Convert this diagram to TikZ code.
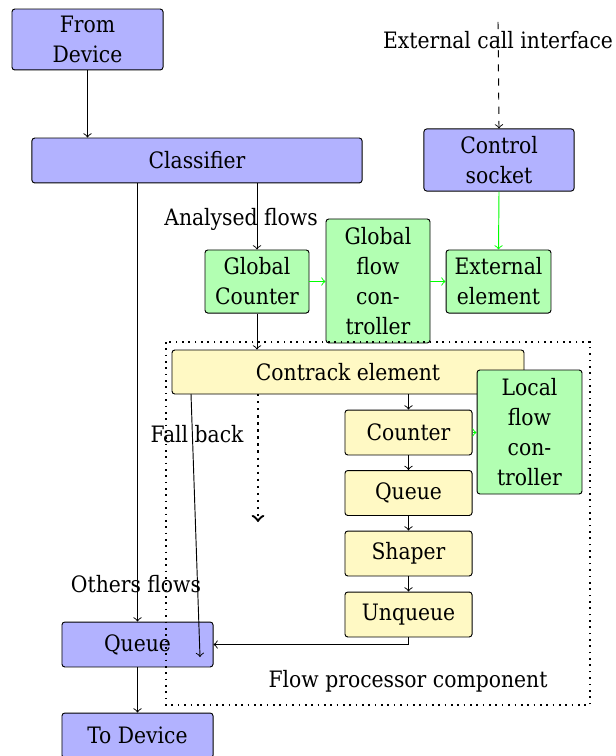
\documentclass[tikz,border=0pt]{standalone}
\usepackage{tikz}
\usepackage{fontspec}
\setmainfont{DejaVu Serif Condensed}
\definecolor{procyellow}{RGB}{255,249,196}

\begin{document}
\begin{tikzpicture}[x=0.425pt,y=-0.425pt, font=\fontsize{9.6}{12.8}\selectfont,
 blk/.style={draw, rounded corners=1.2pt, fill=blue!30, align=center, inner sep=1pt},
 grn/.style={draw, rounded corners=1.2pt, fill=green!30, align=center, inner sep=1pt},
 ylw/.style={draw, rounded corners=1.2pt, fill=procyellow, align=center, inner sep=1pt}]

 \useasboundingbox (0,0) rectangle (615,756);

 % left column
 \path (87.5,39.5) node[blk, minimum width=64.2pt, minimum height=25.9pt](fromdev){From\\Device};
 \path (197,160.5) node[blk, minimum width=140.3pt, minimum height=19.1pt](classifier){Classifier};
 \path (137.5,644.5) node[blk, minimum width=64.2pt, minimum height=19.1pt](queue){Queue};
 \path (137.5,735.5) node[blk, minimum width=64.2pt, minimum height=19.1pt](todev){To Device};

 % control side
 \path (498,40) node(extlabel){External call interface};
 \coordinate (extin) at (498,22);
 \path (499,160) node[blk, minimum width=63.8pt, minimum height=26.4pt](socket){Control\\socket};

 % global part
 \path (241,219) node(analysed){Analysed flows};
 \path (257,281.5) node[grn, minimum width=44.2pt, minimum height=26.8pt](gcounter){Global\\Counter};
 \path (378,281) node[grn, minimum width=44.2pt, minimum height=52.7pt](gflow){Global\\flow\\con-\\troller};
 \path (498.5,281.5) node[grn, minimum width=44.6pt, minimum height=26.8pt](extelem){External\\element};

 % flow processor
 \path (348,372) node[ylw, minimum width=149.6pt, minimum height=18.7pt](contrack){Contrack element};
 \path (529.5,432) node[grn, minimum width=44.6pt, minimum height=52.7pt](lflow){Local\\flow\\con-\\troller};
 \path (408.5,432.5) node[ylw, minimum width=54pt, minimum height=19.1pt](counter){Counter};
 \path (408.5,493) node[ylw, minimum width=54pt, minimum height=19.1pt](pqueue){Queue};
 \path (408.5,553.5) node[ylw, minimum width=54pt, minimum height=19.1pt](shaper){Shaper};
 \path (408.5,614.5) node[ylw, minimum width=54pt, minimum height=19.1pt](unqueue){Unqueue};

 \path (197,434) node(fallback){Fall back};
 \path (136,584) node(others){Others flows};
 \path (408,681) node(fpc){Flow processor component};

 \coordinate (fbstart) at (258,394);
 \coordinate (fbend) at (258,522);
 \coordinate (slstart) at (191,394);
 \coordinate (slend) at (200,657);

 % arrows
 \draw[->] (fromdev) -- (classifier.north -| fromdev);
 \draw[->] (queue.north |- classifier.south) -- (queue.north);
 \draw[->] (gcounter.north |- classifier.south) -- (gcounter.north);
 \draw[->] (gcounter.south) -- (contrack.north -| gcounter.south);
 \draw[->, dashed] (extin) -- (socket.north);
 \draw[->, green] (socket.south) -- (extelem.north);
 \draw[->, green] (gcounter.east) -- (gflow.west |- gcounter.east);
 \draw[->, green] (gflow.east |- extelem.west) -- (extelem.west);
 \draw[->, green] (counter.east) -- (lflow.west |- counter.east);
 \draw[->] (contrack.south -| counter.north) -- (counter.north);
 \draw[->] (counter) -- (pqueue);
 \draw[->] (pqueue) -- (shaper);
 \draw[->] (shaper) -- (unqueue);
 \draw[->] (unqueue.south) |- (queue.east);
 \draw[->] (queue) -- (todev);
 \draw[->, dotted, line width=1pt] (fbstart) -- (fbend);
 \draw[->] (slstart) -- (slend);

 \draw[dotted, line width=0.7pt] (166,342) rectangle (590,705);
\end{tikzpicture}
\end{document}
